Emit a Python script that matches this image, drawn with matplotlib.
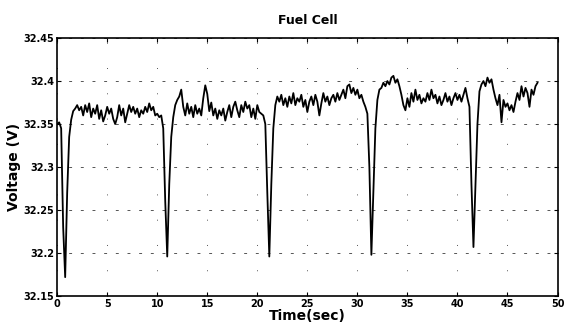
import numpy as np
import matplotlib
matplotlib.use("Agg")
from matplotlib import pyplot as plt

# voltage sampled every 0.2 s, one row = 2 s
dt = 0.2
voltage = [
    32.350, 32.352, 32.345, 32.230, 32.172, 32.270, 32.335, 32.355, 32.365, 32.368,
    32.372, 32.366, 32.370, 32.360, 32.372, 32.364, 32.374, 32.358, 32.368, 32.362,
    32.372, 32.356, 32.366, 32.353, 32.360, 32.370, 32.362, 32.368, 32.356, 32.350,
    32.358, 32.372, 32.360, 32.368, 32.352, 32.362, 32.372, 32.364, 32.370, 32.362,
    32.368, 32.358, 32.366, 32.362, 32.370, 32.364, 32.374, 32.366, 32.370, 32.360,
    32.362, 32.358, 32.360, 32.345, 32.260, 32.196, 32.280, 32.335, 32.358, 32.372,
    32.378, 32.382, 32.390, 32.370, 32.360, 32.374, 32.362, 32.370, 32.358, 32.372,
    32.362, 32.368, 32.360, 32.380, 32.395, 32.385, 32.365, 32.375, 32.360, 32.368,
    32.356, 32.366, 32.360, 32.368, 32.354, 32.364, 32.372, 32.358, 32.370, 32.376,
    32.366, 32.358, 32.372, 32.364, 32.376, 32.368, 32.372, 32.358, 32.368, 32.356,
    32.372, 32.364, 32.362, 32.360, 32.350, 32.270, 32.196, 32.280, 32.345, 32.372,
    32.382, 32.376, 32.384, 32.372, 32.380, 32.370, 32.382, 32.374, 32.386, 32.372,
    32.380, 32.376, 32.384, 32.370, 32.378, 32.364, 32.376, 32.382, 32.372, 32.384,
    32.376, 32.360, 32.374, 32.386, 32.376, 32.382, 32.372, 32.380, 32.384, 32.376,
    32.386, 32.378, 32.384, 32.390, 32.380, 32.394, 32.396, 32.386, 32.392, 32.384,
    32.390, 32.380, 32.384, 32.376, 32.370, 32.362, 32.300, 32.198, 32.270, 32.345,
    32.378, 32.390, 32.392, 32.398, 32.394, 32.400, 32.396, 32.404, 32.406, 32.398,
    32.402, 32.394, 32.384, 32.372, 32.366, 32.380, 32.370, 32.386, 32.376, 32.390,
    32.378, 32.384, 32.374, 32.380, 32.376, 32.386, 32.378, 32.390, 32.380, 32.384,
    32.374, 32.382, 32.372, 32.378, 32.386, 32.376, 32.382, 32.372, 32.380, 32.386,
    32.378, 32.384, 32.376, 32.384, 32.392, 32.380, 32.370, 32.280, 32.207, 32.280,
    32.350, 32.388, 32.396, 32.400, 32.394, 32.404, 32.398, 32.402, 32.390, 32.380,
    32.372, 32.384, 32.352, 32.378, 32.370, 32.374, 32.366, 32.372, 32.364, 32.376,
    32.386, 32.378, 32.394, 32.382, 32.392, 32.386, 32.370, 32.390, 32.384, 32.394,
    32.398,
]
time = np.arange(len(voltage)) * dt

xticks = [0, 5, 10, 15, 20, 25, 30, 35, 40, 45, 50]
yticks = [32.15, 32.2, 32.25, 32.3, 32.35, 32.4, 32.45]
ytick_labels = ["32.15", "32.2", "32.25", "32.3", "32.35", "32.4", "32.45"]

fig = plt.figure(figsize=(5.66, 3.25), dpi=100)
ax = fig.add_axes([0.101, 0.089, 0.884, 0.794])

ax.plot(time, voltage, color="black", lw=1.3)

ax.set_xlim(0, 50)
ax.set_ylim(32.15, 32.45)
ax.set_xticks(xticks)
ax.set_xticklabels([str(x) for x in xticks], fontsize=7, fontweight="bold")
ax.set_yticks(yticks)
ax.set_yticklabels(ytick_labels, fontsize=7, fontweight="bold")
ax.tick_params(direction="in", top=True, right=True, length=3, pad=2)

ax.grid(axis="y", color="#555555", lw=0.7, linestyle=(0, (3, 9)))
ax.grid(axis="x", color="#555555", lw=0.7, linestyle=(0, (1, 25)))

for s in ax.spines.values():
    s.set_linewidth(1.2)

ax.set_title("Fuel Cell", fontsize=9, fontweight="bold", pad=10)
ax.set_xlabel("Time(sec)", fontsize=10, fontweight="bold", labelpad=0)
ax.set_ylabel("Voltage (V)", fontsize=10, fontweight="bold", labelpad=2)

plt.savefig("out.png", dpi=100)
